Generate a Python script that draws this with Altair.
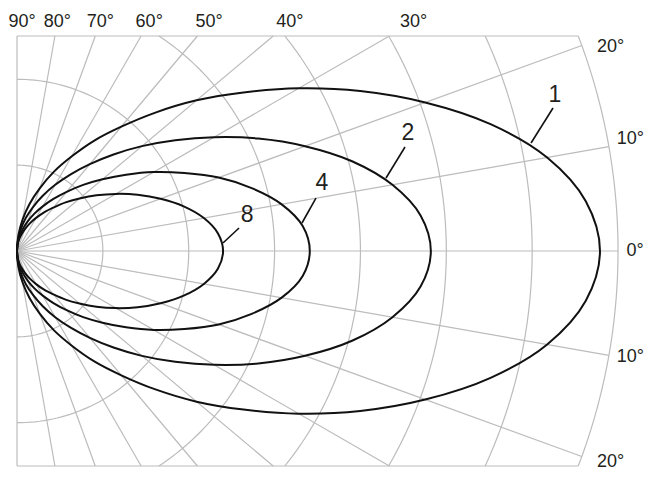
import altair as alt
import numpy as np
import pandas as pd

# ---- values (radius in grid-ring units, outer ring = 7) ----
half_angles = [0, 5, 10, 15, 20, 25, 30, 35, 40, 45, 50, 55, 60, 65, 70, 75, 80, 85, 90]
r_curve1 = [6.79, 6.65, 6.27, 5.71, 5.06, 4.41, 3.79, 3.22, 2.73, 2.28, 1.89, 1.57, 1.27, 1.02, 0.78, 0.57, 0.37, 0.185, 0.0]
r_curve2 = [4.82, 4.72, 4.44, 4.04, 3.57, 3.10, 2.65, 2.25, 1.90, 1.59, 1.32, 1.09, 0.89, 0.71, 0.545, 0.40, 0.26, 0.128, 0.0]
r_curve4 = [3.41, 3.34, 3.13, 2.83, 2.50, 2.15, 1.84, 1.55, 1.30, 1.09, 0.90, 0.74, 0.60, 0.48, 0.37, 0.27, 0.176, 0.087, 0.0]
r_curve8 = [2.40, 2.35, 2.21, 2.01, 1.78, 1.55, 1.33, 1.13, 0.95, 0.80, 0.66, 0.55, 0.445, 0.355, 0.27, 0.20, 0.13, 0.064, 0.0]
curve_names = ["1", "2", "4", "8"]

grid_radii = [1, 2, 3, 4, 5, 6, 7]
ray_angles = list(range(-90, 91, 10))
top_label_angles = [90, 80, 70, 60, 50, 40, 30]
side_labels = ["20°", "10°", "0°", "10°", "20°"]
side_x = [6.755, 6.985, 7.10, 6.985, 6.755]
side_y = [2.376, 1.310, 0.0, -1.235, -2.457]

# annotation labels (text position and leader line, in the same units)
ann_text = ["1", "2", "4", "8"]
ann_x = [6.266, 4.554, 3.552, 2.679]
ann_y = [1.817, 1.374, 0.792, 0.419]
lead_x1 = [6.243, 4.519, 3.482, 2.586]
lead_y1 = [1.666, 1.211, 0.617, 0.268]
lead_x2 = [5.987, 4.298, 3.319, 2.399]
lead_y2 = [1.258, 0.850, 0.326, 0.093]

# ---- geometry of the frame ----
PX = 85.86          # pixels per unit
H = 215 / PX        # half height of the frame
R = 7.0
W_PLOT = 627
H_PLOT = 430
XMAX = W_PLOT / PX

xs = alt.Scale(domain=[0, XMAX], zero=False, nice=False)
ys = alt.Scale(domain=[-H, H], zero=False, nice=False)

# curves
rows = []
for name, rr in zip(curve_names, [r_curve1, r_curve2, r_curve4, r_curve8]):
    full_a = [-a for a in half_angles[::-1]] + half_angles[1:]
    full_r = rr[::-1] + rr[1:]
    for i, (a, r) in enumerate(zip(full_a, full_r)):
        t = np.radians(a)
        rows.append(dict(curve=name, i=i, x=r * np.cos(t), y=r * np.sin(t)))
curves = pd.DataFrame(rows)

# grid arcs
grows = []
for r in grid_radii:
    amax = 90.0 if r <= H else np.degrees(np.arcsin(H / r))
    for i, a in enumerate(np.linspace(-amax, amax, 121)):
        t = np.radians(a)
        grows.append(dict(g=f"c{r}", i=i, x=r * np.cos(t), y=r * np.sin(t)))
# rays
for a in ray_angles:
    t = np.radians(a)
    s = abs(np.sin(t))
    rend = R if s * R <= H else H / s
    grows.append(dict(g=f"r{a}", i=0, x=0.0, y=0.0))
    grows.append(dict(g=f"r{a}", i=1, x=rend * np.cos(t), y=rend * np.sin(t)))
# top / bottom frame edges
xe = float(np.sqrt(R ** 2 - H ** 2))
for sgn in (1, -1):
    grows.append(dict(g=f"e{sgn}", i=0, x=0.0, y=sgn * H))
    grows.append(dict(g=f"e{sgn}", i=1, x=xe, y=sgn * H))
grid = pd.DataFrame(grows)

# angle labels
lab = []
ytop = 229 / PX
for a in top_label_angles:
    t = np.radians(a)
    lab.append(dict(t=f"{a}°", x=max(ytop / np.tan(t), 0.06), y=ytop))
top = pd.DataFrame(lab)
side = pd.DataFrame(dict(t=side_labels, x=side_x, y=side_y))

ann = pd.DataFrame(dict(t=ann_text, x=ann_x, y=ann_y, x1=lead_x1, y1=lead_y1, x2=lead_x2, y2=lead_y2))

GRAY = "#bcbcbc"
FONT = "Liberation Sans"
TXT = "#231f20"

grid_layer = alt.Chart(grid).mark_line(color=GRAY, strokeWidth=1.2).encode(
    x=alt.X("x:Q", scale=xs, axis=None),
    y=alt.Y("y:Q", scale=ys, axis=None),
    detail="g:N",
    order="i:Q",
)

curve_layer = alt.Chart(curves).mark_line(color="#111111", strokeWidth=2, interpolate="catmull-rom").encode(
    x=alt.X("x:Q", scale=xs, axis=None),
    y=alt.Y("y:Q", scale=ys, axis=None),
    detail="curve:N",
    order="i:Q",
)

top_layer = alt.Chart(top).mark_text(font=FONT, fontSize=18, color=TXT, align="center", baseline="middle").encode(
    x=alt.X("x:Q", scale=xs, axis=None), y=alt.Y("y:Q", scale=ys, axis=None), text="t:N"
)
side_layer = alt.Chart(side).mark_text(font=FONT, fontSize=18, color=TXT, align="left", baseline="middle").encode(
    x=alt.X("x:Q", scale=xs, axis=None), y=alt.Y("y:Q", scale=ys, axis=None), text="t:N"
)
lead_layer = alt.Chart(ann).mark_rule(color="#111111", strokeWidth=1.6).encode(
    x=alt.X("x1:Q", scale=xs, axis=None), y=alt.Y("y1:Q", scale=ys, axis=None), x2="x2:Q", y2="y2:Q"
)
ann_layer = alt.Chart(ann).mark_text(font=FONT, fontSize=23, color=TXT, align="center", baseline="middle").encode(
    x=alt.X("x:Q", scale=xs, axis=None), y=alt.Y("y:Q", scale=ys, axis=None), text="t:N"
)

chart = alt.layer(grid_layer, curve_layer, lead_layer, top_layer, side_layer, ann_layer).properties(
    width=W_PLOT, height=H_PLOT,
    autosize=alt.AutoSizeParams(type="none"),
    padding={"left": 9, "top": 28, "right": 0, "bottom": 4},
    background="white",
).configure_view(strokeWidth=0)

chart.save("out.html", embed_options={"renderer": "svg", "actions": False})
